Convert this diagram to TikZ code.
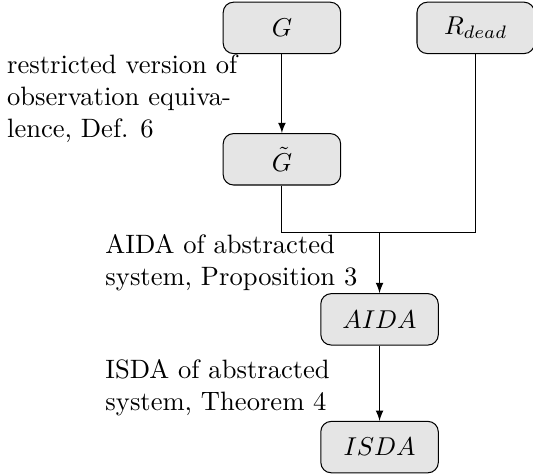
\documentclass[tikz,border=0pt]{standalone}
\usepackage{amsmath}
\tikzset{>=latex}
\tikzset{block/.style={draw, rounded corners=4pt, fill=gray!20, minimum width=1.6cm, minimum height=0.7cm}}
\tikzset{note/.style={align=left, inner sep=0pt, anchor=north west}}

\begin{document}
\fontsize{10.3}{12.4}\selectfont
\begin{tikzpicture}
\useasboundingbox (0,0) rectangle (7.26,-6.47);

	\node[block] (g) at (3.84,-0.38) {$G$};
	\node[block] (rd) at (6.48,-0.38) {$R_{dead}$};
	\node[block] (gt) at (3.84,-2.17) {$\tilde{G}$};
	\node[block] (aida) at (5.17,-4.35) {$AIDA$};
	\node[block] (isda) at (5.17,-6.09) {$ISDA$};

	\coordinate (join) at (5.17,-3.17);

	\node[note] (n1) at (0.09,-0.74) {restricted version of\\observation equiva-\\lence, Def. 6};
	\node[note] (n2) at (1.43,-3.19) {AIDA of abstracted\\system, Proposition 3};
	\node[note] (n3) at (1.43,-4.89) {ISDA of abstracted\\system, Theorem 4};


	\draw[->](g)--(gt);
	\draw (gt.south) |- (join);
	\draw (rd.south) |- (join);
	\draw[->](join)--(aida);
	\draw[->](aida)--(isda);
\end{tikzpicture}
\end{document}
